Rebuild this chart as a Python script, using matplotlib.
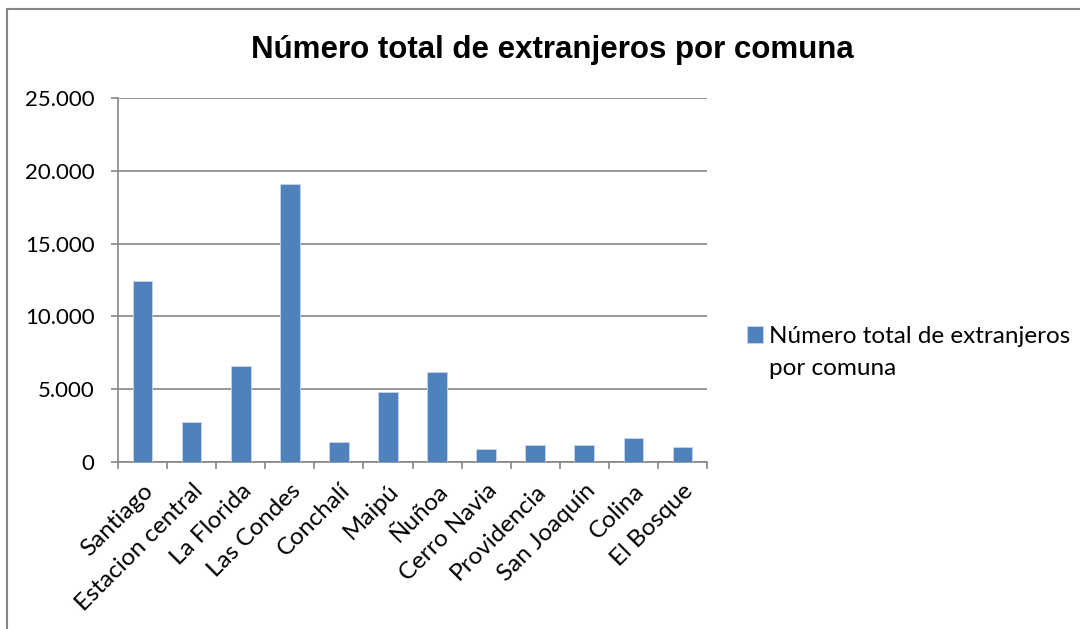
import matplotlib
matplotlib.use("Agg")
import matplotlib.pyplot as plt
import matplotlib.transforms as mtransforms
from matplotlib.patches import Rectangle
from matplotlib.ticker import FuncFormatter, FixedLocator
import numpy as np

# Extranjeros residentes por comuna
comunas = ["Santiago", "Estacion central", "La Florida", "Las Condes", "Conchalí", "Maipú",
           "Ñuñoa", "Cerro Navia", "Providencia", "San Joaquín", "Colina", "El Bosque"]
extranjeros = [12430, 2740, 6560, 19110, 1370, 4800, 6170, 880, 1180, 1180, 1640, 1060]
y_ticks = [0, 5000, 10000, 15000, 20000, 25000]

titulo = "Número total de extranjeros por comuna"
serie = ["Número total de extranjeros", "por comuna"]

gris = "#868686"
azul = "#4f81bd"
fuente = "Lato"

fig = plt.figure(figsize=(10.8, 6.29), dpi=100)
ax = fig.add_axes([118 / 1080, 1 - 462 / 629, (707 - 118) / 1080, (462 - 98) / 629])

x = np.arange(len(comunas))
ax.bar(x, extranjeros, width=0.4, color=azul, edgecolor="#c6d5ea", linewidth=0.6,
       label=serie[0], zorder=3)

ax.set_xlim(-0.5, len(comunas) - 0.5)
ax.set_ylim(0, 25000)
ax.set_yticks(y_ticks)
ax.yaxis.set_major_formatter(FuncFormatter(lambda v, p: f"{int(v):,}".replace(",", ".")))
ax.grid(axis="y", color=gris, linewidth=1.2, zorder=0)

ax.set_xticks(x)
ax.set_xticklabels(comunas, rotation=45, ha="right", rotation_mode="anchor",
                   fontsize=17.5, family=fuente)
# desplazar las etiquetas rotadas un poco a la izquierda
desplazamiento = mtransforms.ScaledTranslation(-7 / 100, 0, fig.dpi_scale_trans)
for lbl in ax.get_xticklabels():
    lbl.set_transform(lbl.get_transform() + desplazamiento)
ax.xaxis.set_minor_locator(FixedLocator(np.arange(-0.5, len(comunas), 1.0)))
ax.tick_params(axis="x", which="major", length=0, pad=13)
ax.tick_params(axis="x", which="minor", length=5, color=gris, width=1.2)
ax.tick_params(axis="y", length=5, color=gris, width=1.2, labelsize=16, pad=12)
for lbl in ax.get_yticklabels():
    lbl.set_family(fuente)

for s in ["top", "right"]:
    ax.spines[s].set_visible(False)
for s in ["left", "bottom"]:
    ax.spines[s].set_color(gris)
    ax.spines[s].set_linewidth(1.2)

fig.text(552 / 1080, 1 - 50 / 629, titulo, ha="center", va="center",
         fontsize=22.5, fontweight="bold", family="Liberation Sans")

leg = fig.legend(loc="upper left", bbox_to_anchor=(747 / 1080, 1 - 326 / 629),
                 frameon=False, prop={"family": fuente, "size": 17.5},
                 handlelength=0.65, handleheight=0.65, handletextpad=0.25,
                 borderpad=0, borderaxespad=0)

# segunda línea de la leyenda, alineada con el texto de la primera
fig.canvas.draw()
bb = leg.get_texts()[0].get_window_extent().transformed(fig.transFigure.inverted())
fig.text(bb.x0, bb.y0 - 32 / 629, serie[1], ha="left", va="bottom",
         fontsize=17.5, family=fuente)

# marco del gráfico
fig.patches.append(Rectangle((7 / 1080, -0.05), 1.1, 1.05 - 9 / 629,
                             transform=fig.transFigure, fill=False,
                             edgecolor=gris, linewidth=1.5))

fig.savefig("out.png", dpi=100)
